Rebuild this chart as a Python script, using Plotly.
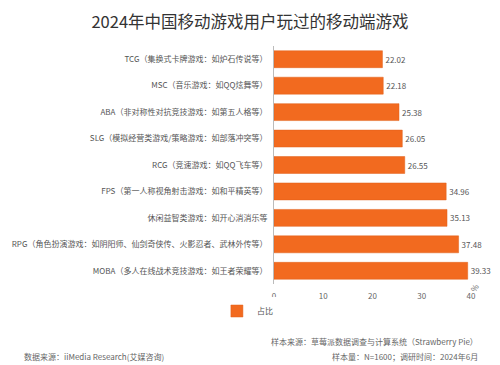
import plotly.graph_objects as go

categories = [
    "TCG（集换式卡牌游戏：如炉石传说等）",
    "MSC（音乐游戏：如QQ炫舞等）",
    "ABA（非对称性对抗竞技游戏：如第五人格等）",
    "SLG（模拟经营类游戏/策略游戏：如部落冲突等）",
    "RCG（竞速游戏：如QQ飞车等）",
    "FPS（第一人称视角射击游戏：如和平精英等）",
    "休闲益智类游戏：如开心消消乐等",
    "RPG（角色扮演游戏：如阴阳师、仙剑奇侠传、火影忍者、武林外传等）",
    "MOBA（多人在线战术竞技游戏：如王者荣耀等）",
]
values = [22.02, 22.18, 25.38, 26.05, 26.55, 34.96, 35.13, 37.48, 39.33]
x_ticks = [0, 10, 20, 30, 40]

FONT = "Noto Sans CJK SC"
BAR = "#F26A1F"

L, R, T, B = 271, 29, 46, 81
PW, PH = 500 - L - R, 365 - T - B


def px_x(x):
    return (x - L) / PW


def px_y(y):
    return (365 - B - y) / PH


fig = go.Figure()
fig.add_trace(go.Bar(
    x=values, y=categories, orientation="h", name="占比",
    marker=dict(color=BAR, line=dict(color="#E0601A", width=0.5)),
    text=[f"{v:.2f}" for v in values], textposition="outside",
    textfont=dict(size=8, color="#555555", family=FONT),
    cliponaxis=False,
))

foot = dict(size=8, color="#666666", family=FONT)
fig.update_layout(
    width=500, height=365,
    margin=dict(l=L, r=R, t=T, b=B),
    paper_bgcolor="white", plot_bgcolor="white",
    font=dict(family=FONT, color="#555555", size=8),
    bargap=0.36,
    title=dict(text="2024年中国移动游戏用户玩过的移动端游戏", x=0.5, xanchor="center",
               y=1 - 22 / 365, yanchor="middle",
               font=dict(size=16.5, color="#333333", family=FONT, weight=400)),
    showlegend=True,
    legend=dict(orientation="h", x=px_x(244), xanchor="center", y=px_y(311), yanchor="middle",
                font=dict(size=8, color="#555555")),
    xaxis=dict(range=[0, 40], tickvals=x_ticks, showgrid=False, zeroline=False,
               showline=False, ticks="outside", ticklen=4, tickcolor="rgba(0,0,0,0)",
               tickfont=dict(size=8, color="#666666")),
    yaxis=dict(categoryorder="array", categoryarray=categories[::-1],
               showgrid=False, showline=True, linecolor="#BBBBBB", linewidth=1,
               ticks="outside", ticklen=4, tickcolor="rgba(0,0,0,0)",
               tickfont=dict(size=8, color="#555555")),
    annotations=[
        dict(text="%", x=px_x(484), y=px_y(287), xref="paper", yref="paper", showarrow=False,
             textangle=-60, yanchor="middle", font=foot),
        dict(text="样本来源：草莓派数据调查与计算系统（Strawberry Pie）", x=px_x(480), xref="paper",
             xanchor="right", y=px_y(341), yref="paper", yanchor="middle", showarrow=False,
             font=foot),
        dict(text="样本量：N=1600；调研时间：2024年6月", x=px_x(480), xref="paper",
             xanchor="right", y=px_y(356), yref="paper", yanchor="middle", showarrow=False,
             font=foot),
        dict(text="数据来源：iiMedia Research(艾媒咨询)", x=px_x(15), xref="paper",
             xanchor="left", y=px_y(356), yref="paper", yanchor="middle", showarrow=False,
             font=foot),
    ],
)

fig.write_html("out.html")
